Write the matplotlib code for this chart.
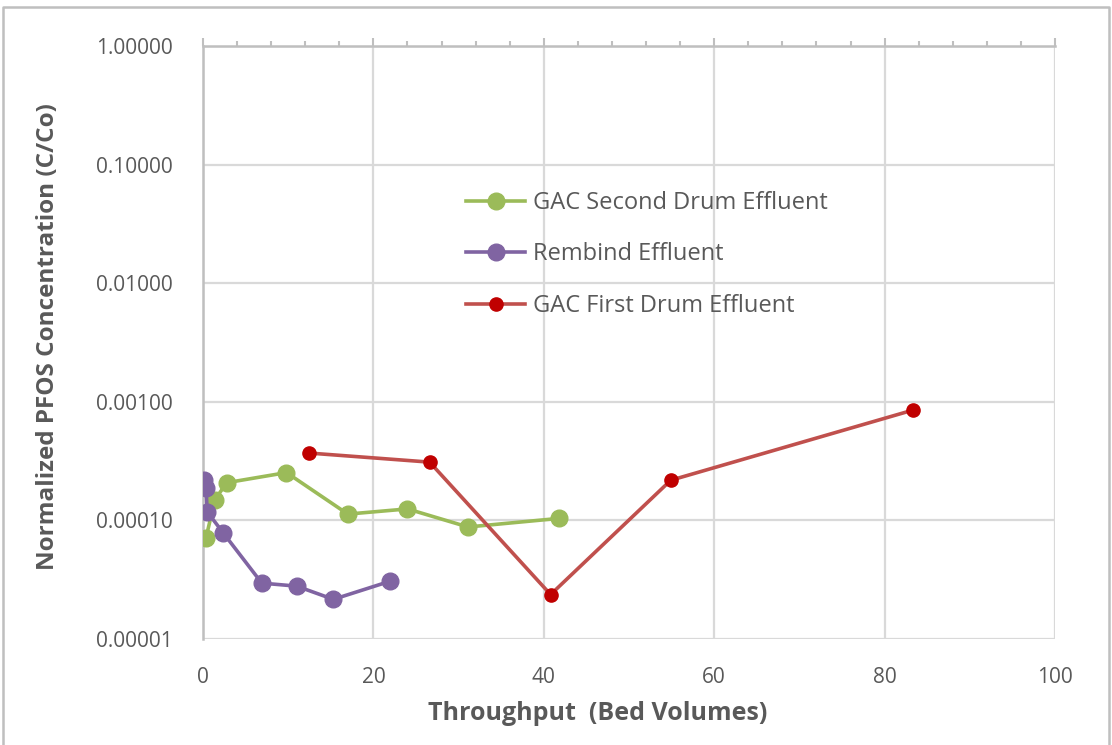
import matplotlib.pyplot as plt
from matplotlib.ticker import FixedLocator, MultipleLocator, FormatStrFormatter
from matplotlib.lines import Line2D

# GAC second drum effluent
gac2_bv = [0.35, 1.4, 2.8, 9.8, 17.0, 24.0, 31.1, 41.8]
gac2_cc = [7.1e-5, 1.5e-4, 2.08e-4, 2.53e-4, 1.13e-4, 1.25e-4, 8.8e-5, 1.04e-4]

# Rembind effluent
remb_bv = [0.12, 0.35, 0.5, 2.4, 6.9, 11.0, 15.3, 21.9]
remb_cc = [2.2e-4, 1.87e-4, 1.18e-4, 7.8e-5, 2.96e-5, 2.79e-5, 2.16e-5, 3.06e-5]

# GAC first drum effluent
gac1_bv = [12.4, 26.6, 40.8, 54.9, 83.3]
gac1_cc = [3.7e-4, 3.1e-4, 2.37e-5, 2.18e-4, 8.5e-4]

y_ticks = [1e-5, 1e-4, 1e-3, 1e-2, 1e-1, 1]

plt.rcParams['font.family'] = ['Open Sans', 'DejaVu Sans']

fig = plt.figure(figsize=(11.12, 7.45), dpi=100)
ax = fig.add_axes([203 / 1112, 1 - 639 / 745, 852 / 1112, 593 / 745])

txt = '#595959'
grid = '#D9D9D9'

ax.plot(gac2_bv, gac2_cc, '-o', color='#9BBB59', lw=2.6, ms=12, zorder=3,
        label='GAC Second Drum Effluent')
ax.plot(remb_bv, remb_cc, '-o', color='#8064A2', lw=2.6, ms=12, zorder=4,
        label='Rembind Effluent')
ax.plot(gac1_bv, gac1_cc, '-o', color='#C0504D', lw=2.6, ms=9.5, zorder=3,
        mfc='#C00000', mec='#C00000', label='GAC First Drum Effluent')

ax.set_yscale('log')
ax.set_ylim(1e-5, 1)
ax.set_xlim(0, 100)
ax.yaxis.set_major_locator(FixedLocator(y_ticks))
ax.yaxis.set_minor_locator(FixedLocator([]))
ax.yaxis.set_major_formatter(FormatStrFormatter('%.5f'))
ax.xaxis.set_major_locator(MultipleLocator(20))
ax.xaxis.set_minor_locator(MultipleLocator(4))

ax.grid(True, which='major', color=grid, lw=1.6, zorder=0)
for s in ['right', 'bottom']:
    ax.spines[s].set_visible(False)
ax.spines['left'].set_color('#BFBFBF')
ax.spines['left'].set_linewidth(1.8)
ax.spines['top'].set_color('#BFBFBF')
ax.spines['top'].set_linewidth(1.8)

ax.tick_params(axis='x', which='both', bottom=False, top=True, labelbottom=True,
               labeltop=False, direction='out', color='#BFBFBF', width=1.5)
ax.tick_params(axis='x', which='major', length=6, pad=14, labelsize=15, labelcolor=txt)
ax.tick_params(axis='x', which='minor', length=3.5)
ax.tick_params(axis='y', which='both', length=0, pad=22, labelsize=15, labelcolor=txt)

ax.set_xlabel('Throughput  (Bed Volumes)', fontsize=18, fontweight='bold', color=txt)
ax.xaxis.set_label_coords((598 - 203) / 852, (639 - 713) / 593)
ax.xaxis.label.set_va('center')
ax.set_ylabel('Normalized PFOS Concentration (C/Co)', fontsize=17.5, fontweight='bold',
              color=txt)
ax.yaxis.set_label_coords((48 - 203) / 852, 0.51)
ax.yaxis.label.set_va('center')

leg = ax.legend(loc='upper left', bbox_to_anchor=(466 / 1112, 1 - 191 / 745),
                bbox_transform=fig.transFigure, frameon=False, fontsize=17,
                handlelength=2.5, handletextpad=0.34, labelspacing=1.16,
                borderpad=0, borderaxespad=0)
for t in leg.get_texts():
    t.set_color(txt)

# outer chart border
fig.add_artist(Line2D([3 / 1112, 3 / 1112, 1109 / 1112, 1109 / 1112],
                      [0, 1 - 7 / 745, 1 - 7 / 745, 0],
                      transform=fig.transFigure, color='#BFBFBF', lw=1.8))

fig.savefig('out.png', dpi=100)
